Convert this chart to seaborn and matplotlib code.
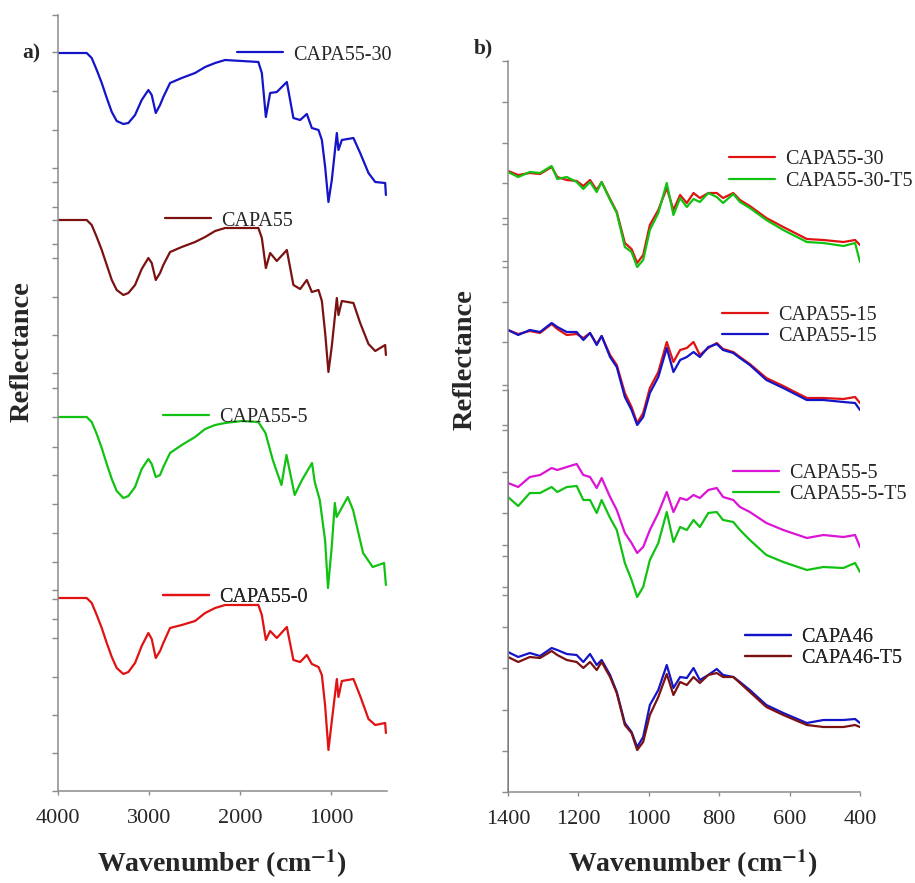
import matplotlib
matplotlib.use("Agg")
import matplotlib.pyplot as plt
import seaborn as sns

# ---------------- data (arbitrary reflectance units, offset) -------------
# Panel a) full range spectra
wn_a = [4000, 3680, 3625, 3570, 3515, 3460, 3405, 3351, 3278, 3223, 3150, 3077, 3004, 2967,
        2923, 2876, 2840, 2766, 2638, 2492, 2382, 2272, 2163, 1980, 1798, 1760, 1716, 1669,
        1596, 1486, 1414, 1340, 1267, 1212, 1139, 1102, 1066, 1030, 993, 938, 920, 883,
        756, 682, 591, 517, 408, 400]
capa55_30_a = [738, 738, 733, 721, 708, 693, 679, 670, 667, 668, 676, 691, 701, 696,
               678, 686, 694, 708, 713, 718, 724, 728, 731, 730, 729, 718, 674, 698,
               699, 709, 673, 671, 677, 663, 661, 651, 624, 589, 611, 658, 641, 651,
               653, 638, 618, 609, 608, 596]
capa55_a = [571, 571, 566, 554, 541, 526, 511, 501, 496, 498, 506, 522, 533, 528,
            511, 518, 526, 539, 544, 549, 554, 560, 563, 563, 563, 553, 523, 538,
            530, 541, 506, 502, 511, 499, 501, 490, 458, 419, 445, 493, 476, 490,
            488, 468, 447, 440, 446, 436]
capa55_0_a = [193, 193, 188, 176, 163, 148, 134, 123, 117, 119, 128, 145, 158, 152,
              133, 140, 148, 163, 166, 170, 178, 183, 186, 186, 186, 176, 151, 160,
              153, 164, 131, 129, 136, 127, 124, 116, 85, 41, 70, 112, 94, 110,
              112, 95, 72, 66, 68, 58]
wn_a5 = [4000, 3680, 3625, 3570, 3515, 3460, 3405, 3351, 3278, 3223, 3150, 3077, 3004, 2967,
         2923, 2876, 2840, 2766, 2638, 2492, 2382, 2272, 2163, 1980, 1798, 1720, 1640, 1545,
         1490, 1400, 1320, 1210, 1180, 1125, 1066, 1035, 993, 960, 940, 818, 760, 650,
         545, 420, 400]
capa55_5_a = [374, 374, 369, 357, 343, 327, 312, 300, 293, 295, 304, 322, 332, 327,
              314, 316, 324, 338, 346, 354, 362, 366, 368, 370, 369, 358, 331, 306,
              336, 296, 311, 328, 309, 291, 250, 203, 245, 288, 274, 294, 281, 238,
              224, 228, 206]

# Panel b) 1400-400 cm-1 region
wn_b = [1400, 1371, 1338, 1309, 1276, 1260, 1233, 1205, 1186, 1167, 1148, 1134, 1110, 1091,
        1068, 1049, 1033, 1016, 997, 973, 949, 930, 911, 892, 873, 855, 831, 807, 789,
        760, 741, 713, 666, 618, 551, 504, 447, 414, 400]
capa55_30_b = [621, 617, 619, 618, 625, 615, 612, 611, 606, 612, 602, 610, 593, 580,
               549, 543, 529, 537, 567, 582, 604, 582, 597, 589, 599, 594, 599, 599, 594,
               599, 592, 586, 574, 565, 553, 552, 550, 552, 547]
capa55_30_t5_b = [620, 615, 620, 619, 626, 613, 615, 610, 603, 610, 600, 610, 592, 579,
                  545, 540, 525, 532, 562, 579, 609, 577, 594, 585, 593, 590, 599, 595, 589,
                  598, 590, 584, 572, 562, 550, 549, 546, 549, 530]
capa55_15_b = [462, 458, 461, 459, 468, 463, 457, 458, 454, 459, 448, 456, 437, 427,
               399, 385, 369, 379, 404, 420, 450, 430, 442, 444, 450, 437, 444, 449, 443,
               440, 435, 428, 414, 406, 394, 394, 393, 395, 389]
capa55_15_t5_b = [462, 457, 462, 460, 469, 465, 460, 460, 452, 459, 447, 456, 435, 425,
                  395, 382, 367, 375, 399, 415, 444, 420, 432, 435, 440, 435, 445, 448, 442,
                  439, 434, 427, 412, 404, 392, 392, 390, 389, 382]
capa55_5_b = [309, 305, 315, 317, 324, 322, 325, 328, 317, 315, 304, 314, 295, 282,
              259, 249, 239, 245, 262, 279, 300, 280, 294, 292, 297, 294, 302, 304, 295,
              292, 285, 280, 269, 262, 254, 257, 255, 257, 245]
capa55_5_t5_b = [295, 286, 299, 299, 305, 300, 305, 306, 292, 292, 279, 292, 274, 262,
                 229, 212, 195, 205, 232, 249, 280, 250, 265, 262, 272, 265, 279, 280, 272,
                 270, 262, 252, 237, 230, 222, 225, 224, 229, 220]
capa46_b = [140, 135, 139, 136, 144, 142, 138, 137, 130, 138, 127, 132, 117, 100,
            69, 60, 45, 55, 87, 102, 127, 104, 115, 114, 124, 112, 117, 123, 117,
            115, 110, 102, 87, 79, 69, 72, 72, 73, 69]
capa46_t5_b = [135, 130, 135, 134, 141, 137, 132, 130, 124, 130, 122, 130, 115, 99,
               67, 59, 42, 50, 77, 95, 118, 97, 110, 107, 115, 109, 117, 119, 115,
               115, 109, 100, 85, 77, 67, 65, 65, 67, 65]

xticks_a = [4000, 3000, 2000, 1000]
xticks_b = [1400, 1200, 1000, 800, 600, 400]

# ---------------- style ----------------
BLUE = "#1414c8"
DRED = "#7a1212"
GREEN = "#12c212"
RED = "#e01212"
MAG = "#dc14d6"
GRAY = "#8c8c8c"

sns.set_style("ticks")
plt.rcParams["font.family"] = ["Liberation Serif", "DejaVu Serif"]
plt.rcParams["mathtext.fontset"] = "stix"

W, H = 915, 883
fig = plt.figure(figsize=(W / 100, H / 100), dpi=100)
axA = fig.add_axes([57.5 / W, (H - 791) / H, (387 - 57.5) / W, (791 - 15) / H])
axB = fig.add_axes([508 / W, (H - 792) / H, (860 - 508) / W, (792 - 61) / H])

LW = 1.6
seriesA = [
    (wn_a, capa55_30_a, BLUE, "CAPA55-30", 237, 55),
    (wn_a, capa55_a, DRED, "CAPA55", 165, 221),
    (wn_a5, capa55_5_a, GREEN, "CAPA55-5", 163, 417),
    (wn_a, capa55_0_a, RED, "CAPA55-0", 163, 597),
]
for x, y, c, lab, lx, ly in seriesA:
    sns.lineplot(x=x, y=y, ax=axA, color=c, lw=LW, sort=False, estimator=None, legend=False)
    line = axA.lines[-1]
    leg = axA.legend(handles=[line], labels=[lab], loc="center left",
                     bbox_to_anchor=(lx / W, 1 - ly / H), bbox_transform=fig.transFigure,
                     frameon=False, fontsize=14.5, handlelength=2.3, handletextpad=0.5,
                     borderpad=0, borderaxespad=0)
    axA.add_artist(leg)

pairsB = [
    ((capa55_30_b, RED, "CAPA55-30"), (capa55_30_t5_b, GREEN, "CAPA55-30-T5"), 729, 170.5),
    ((capa55_15_b, RED, "CAPA55-15"), (capa55_15_t5_b, BLUE, "CAPA55-15"), 722, 326),
    ((capa55_5_b, MAG, "CAPA55-5"), (capa55_5_t5_b, GREEN, "CAPA55-5-T5"), 733, 484),
    ((capa46_b, BLUE, "CAPA46"), (capa46_t5_b, DRED, "CAPA46-T5"), 745, 648),
]
for s1, s2, lx, ly in pairsB:
    handles = []
    for y, c, lab in (s1, s2):
        sns.lineplot(x=wn_b, y=y, ax=axB, color=c, lw=LW, sort=False, estimator=None, legend=False)
        handles.append(axB.lines[-1])
    leg = axB.legend(handles=handles, labels=[s1[2], s2[2]], loc="center left",
                     bbox_to_anchor=(lx / W, 1 - ly / H), bbox_transform=fig.transFigure,
                     frameon=False, fontsize=14.5, handlelength=2.3, handletextpad=0.5,
                     labelspacing=0.12, borderpad=0, borderaxespad=0)
    axB.add_artist(leg)

# ---------------- axes ----------------
ytick_a = [776, 739, 700, 661, 623, 609, 584, 571, 547, 533, 494, 456, 418, 403, 374, 344,
           316, 287, 258, 229, 201, 192, 172, 153, 114, 76, 38, 0]
ytick_b = [731, 690, 649, 609, 574, 568, 531, 525, 490, 450, 407, 402, 367, 362, 320, 279,
           247, 236, 205, 197, 165, 124, 82, 41, 0]

for ax, xl, xt, yl, yt in ((axA, (4000, 388), xticks_a, (0, 776), ytick_a),
                           (axB, (1400, 400), xticks_b, (0, 731), ytick_b)):
    ax.set_xlim(*xl)
    ax.set_ylim(*yl)
    ax.set_xticks(xt)
    ax.set_xticklabels([str(v) for v in xt])
    ax.set_yticks(yt)
    ax.tick_params(axis="y", labelleft=False, direction="out", length=4, width=1, color=GRAY)
    ax.tick_params(axis="x", direction="out", length=3, width=1, color=GRAY,
                   labelsize=16, pad=10)
    sns.despine(ax=ax)
    for sp in ("left", "bottom"):
        ax.spines[sp].set_color(GRAY)
        ax.spines[sp].set_linewidth(1.1)
    ax.set_xlabel(r"Wavenumber (cm$^{\mathbf{-1}}$)", fontsize=20, fontweight="bold")
    ax.set_ylabel("Reflectance", fontsize=20.5, fontweight="bold")
    ax.yaxis.label.set(va="center", ha="center", rotation_mode="default")
    ax.xaxis.label.set(va="center")

axB.axvline(1400, ymin=0, ymax=(792 - 390) / 731, color="#202020", lw=1.1)

axA.xaxis.set_label_coords(0.5, (791 - 864) / 776)
axB.xaxis.set_label_coords(0.525, (792 - 864) / 731)
axA.yaxis.set_label_coords((22 - 57.5) / 329.5, (791 - 352) / 776)
axB.yaxis.set_label_coords((465 - 508) / 352, (792 - 360) / 731)

fig.text(31 / W, 1 - 53 / H, "a)", fontsize=15.5, fontweight="bold", ha="center", va="center")
fig.text(483 / W, 1 - 48 / H, "b)", fontsize=15.5, fontweight="bold", ha="center", va="center")

fig.savefig("out.png", dpi=100)
